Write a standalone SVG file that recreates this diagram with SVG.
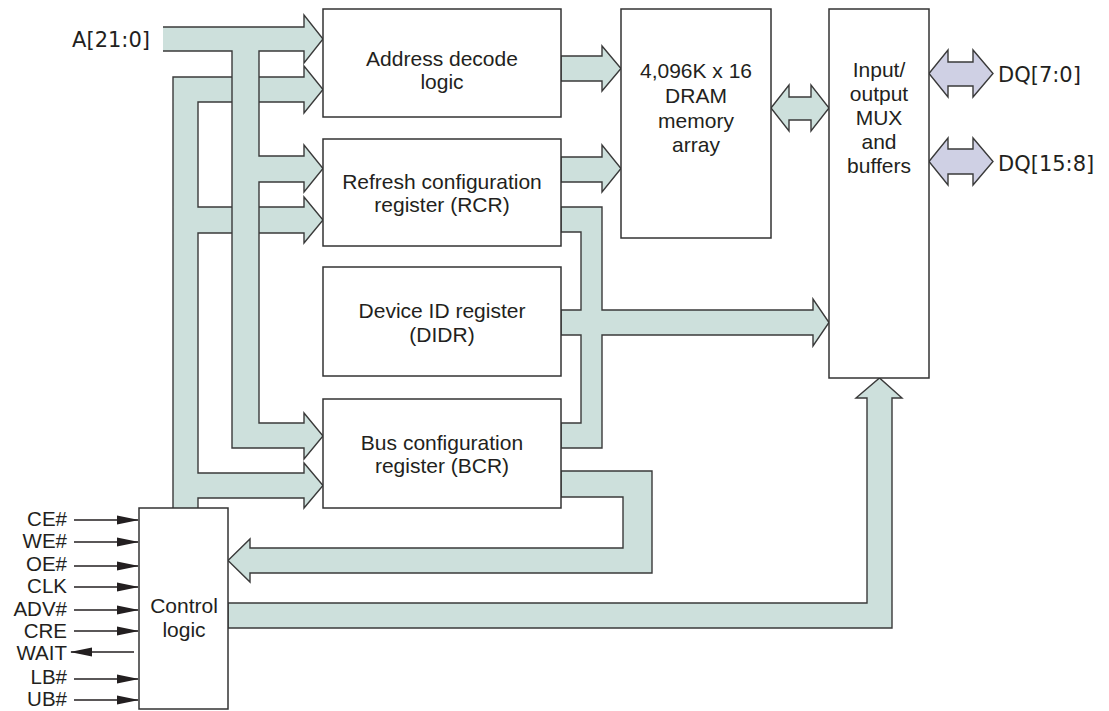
<svg xmlns="http://www.w3.org/2000/svg" width="1109" height="711" viewBox="0 0 1109 711">
<defs>
<style>
.bus{fill:#cde0dc;stroke:#3a3a3a;stroke-width:1.4;stroke-linejoin:miter}
.dq{fill:#cfd0e4;stroke:#3a3a3a;stroke-width:1.4}
.box{fill:#ffffff;stroke:#333333;stroke-width:1.5}
.t{font-family:"Liberation Sans",Arial,sans-serif;font-size:21px;fill:#231f20;text-anchor:middle}
.s{font-family:"Liberation Sans",Arial,sans-serif;font-size:20.5px;fill:#231f20;text-anchor:end}
.l{font-family:"DejaVu Sans",sans-serif;font-size:21px;fill:#231f20}
.sig{stroke:#231f20;stroke-width:1.4;fill:none}
</style>
<marker id="ah" viewBox="0 0 22 10" refX="21" refY="5" markerWidth="22" markerHeight="10" markerUnits="userSpaceOnUse" orient="auto">
<path d="M0,0.5 L22,5 L0,9.5 Z" fill="#231f20"/>
</marker>
</defs>
<g id="connectors">
<path class="bus" d="M173,508 L173,77 L304,77 L304,66 L323,89.5 L304,113 L304,102 L198,102 L198,207 L304,207 L304,197 L323,220 L304,243 L304,233 L198,233 L198,473 L304,473 L304,463 L323,485.5 L304,508 L304,498 L198,498 L198,508"/>
<path class="bus" d="M163,27 L304,27 L304,15 L323,39 L304,63 L304,51 L259,51 L259,156 L304,156 L304,145 L323,168.5 L304,192 L304,182 L259,182 L259,423 L304,423 L304,413 L323,436 L304,459 L304,448 L232,448 L232,51 L163,51"/>
<path class="bus" d="M561,56 L602,56 L602,46 L621,68.5 L602,91 L602,81 L561,81 Z"/>
<path class="bus" d="M561,157 L602,157 L602,145 L621,168.5 L602,192 L602,182 L561,182 Z"/>
<path class="bus" d="M561,207 L602,207 L602,310 L813,310 L813,299 L829,322.5 L813,346 L813,335 L602,335 L602,448 L561,448 L561,423 L581,423 L581,335 L561,335 L561,310 L581,310 L581,232 L561,232 Z"/>
<path class="bus" d="M561,471 L652,471 L652,573 L250,573 L250,582 L228,560.5 L250,539 L250,548 L623,548 L623,497 L561,497 Z"/>
<path class="bus" d="M228,603 L867,603 L867,398 L856,398 L879.5,378 L902,398 L892,398 L892,628 L228,628 Z"/>
<path class="bus" d="M771,108 L789,85 L789,97 L811,97 L811,85 L829,108 L811,131 L811,120 L789,120 L789,131 Z"/>
<path class="dq" d="M929,73.5 L948,50 L948,62 L973,62 L973,50 L993,73.5 L973,97 L973,86 L948,86 L948,97 Z"/>
<path class="dq" d="M929,161.5 L948,138 L948,149 L973,149 L973,138 L993,161.5 L973,185 L973,174 L948,174 L948,185 Z"/>
<line class="sig" x1="74" y1="520" x2="138" y2="520" marker-end="url(#ah)"/>
<line class="sig" x1="74" y1="542" x2="138" y2="542" marker-end="url(#ah)"/>
<line class="sig" x1="74" y1="566" x2="138" y2="566" marker-end="url(#ah)"/>
<line class="sig" x1="74" y1="587" x2="138" y2="587" marker-end="url(#ah)"/>
<line class="sig" x1="74" y1="610" x2="138" y2="610" marker-end="url(#ah)"/>
<line class="sig" x1="74" y1="631" x2="138" y2="631" marker-end="url(#ah)"/>
<line class="sig" x1="134" y1="652" x2="71" y2="652" marker-end="url(#ah)"/>
<line class="sig" x1="74" y1="679" x2="138" y2="679" marker-end="url(#ah)"/>
<line class="sig" x1="74" y1="700" x2="138" y2="700" marker-end="url(#ah)"/>
</g>
<g id="addr_label">
<text class="l" x="150" y="47" text-anchor="end">A[21:0]</text>
</g>
<g id="address_decode">
<rect class="box" x="323" y="9" width="238" height="108"/>
<text class="t" x="442" y="66">Address decode</text>
<text class="t" x="442" y="89">logic</text>
</g>
<g id="rcr">
<rect class="box" x="323" y="139" width="238" height="107"/>
<text class="t" x="442" y="189">Refresh configuration</text>
<text class="t" x="442" y="212">register (RCR)</text>
</g>
<g id="didr">
<rect class="box" x="323" y="267" width="238" height="109"/>
<text class="t" x="442" y="318">Device ID register</text>
<text class="t" x="442" y="342">(DIDR)</text>
</g>
<g id="bcr">
<rect class="box" x="323" y="399" width="238" height="109"/>
<text class="t" x="442" y="450">Bus configuration</text>
<text class="t" x="442" y="473">register (BCR)</text>
</g>
<g id="dram">
<rect class="box" x="621" y="9" width="150" height="229"/>
<text class="t" x="696" y="78">4,096K x 16</text>
<text class="t" x="696" y="103">DRAM</text>
<text class="t" x="696" y="128">memory</text>
<text class="t" x="696" y="152">array</text>
</g>
<g id="io_mux">
<rect class="box" x="829" y="9" width="100" height="369"/>
<text class="t" x="879" y="77">Input/</text>
<text class="t" x="879" y="101">output</text>
<text class="t" x="879" y="125">MUX</text>
<text class="t" x="879" y="149">and</text>
<text class="t" x="879" y="173">buffers</text>
</g>
<g id="dq_labels">
<text class="l" x="998" y="82">DQ[7:0]</text>
<text class="l" x="998" y="171">DQ[15:8]</text>
</g>
<g id="control_logic">
<rect class="box" x="139" y="508" width="89" height="201"/>
<text class="t" x="184" y="613">Control</text>
<text class="t" x="184" y="637">logic</text>
</g>
<g id="signal_labels">
<text class="s" x="67" y="526">CE#</text>
<text class="s" x="67" y="548">WE#</text>
<text class="s" x="67" y="571">OE#</text>
<text class="s" x="67" y="593">CLK</text>
<text class="s" x="67" y="616">ADV#</text>
<text class="s" x="67" y="638">CRE</text>
<text class="s" x="67" y="660">WAIT</text>
<text class="s" x="67" y="684">LB#</text>
<text class="s" x="67" y="706">UB#</text>
</g>
</svg>
